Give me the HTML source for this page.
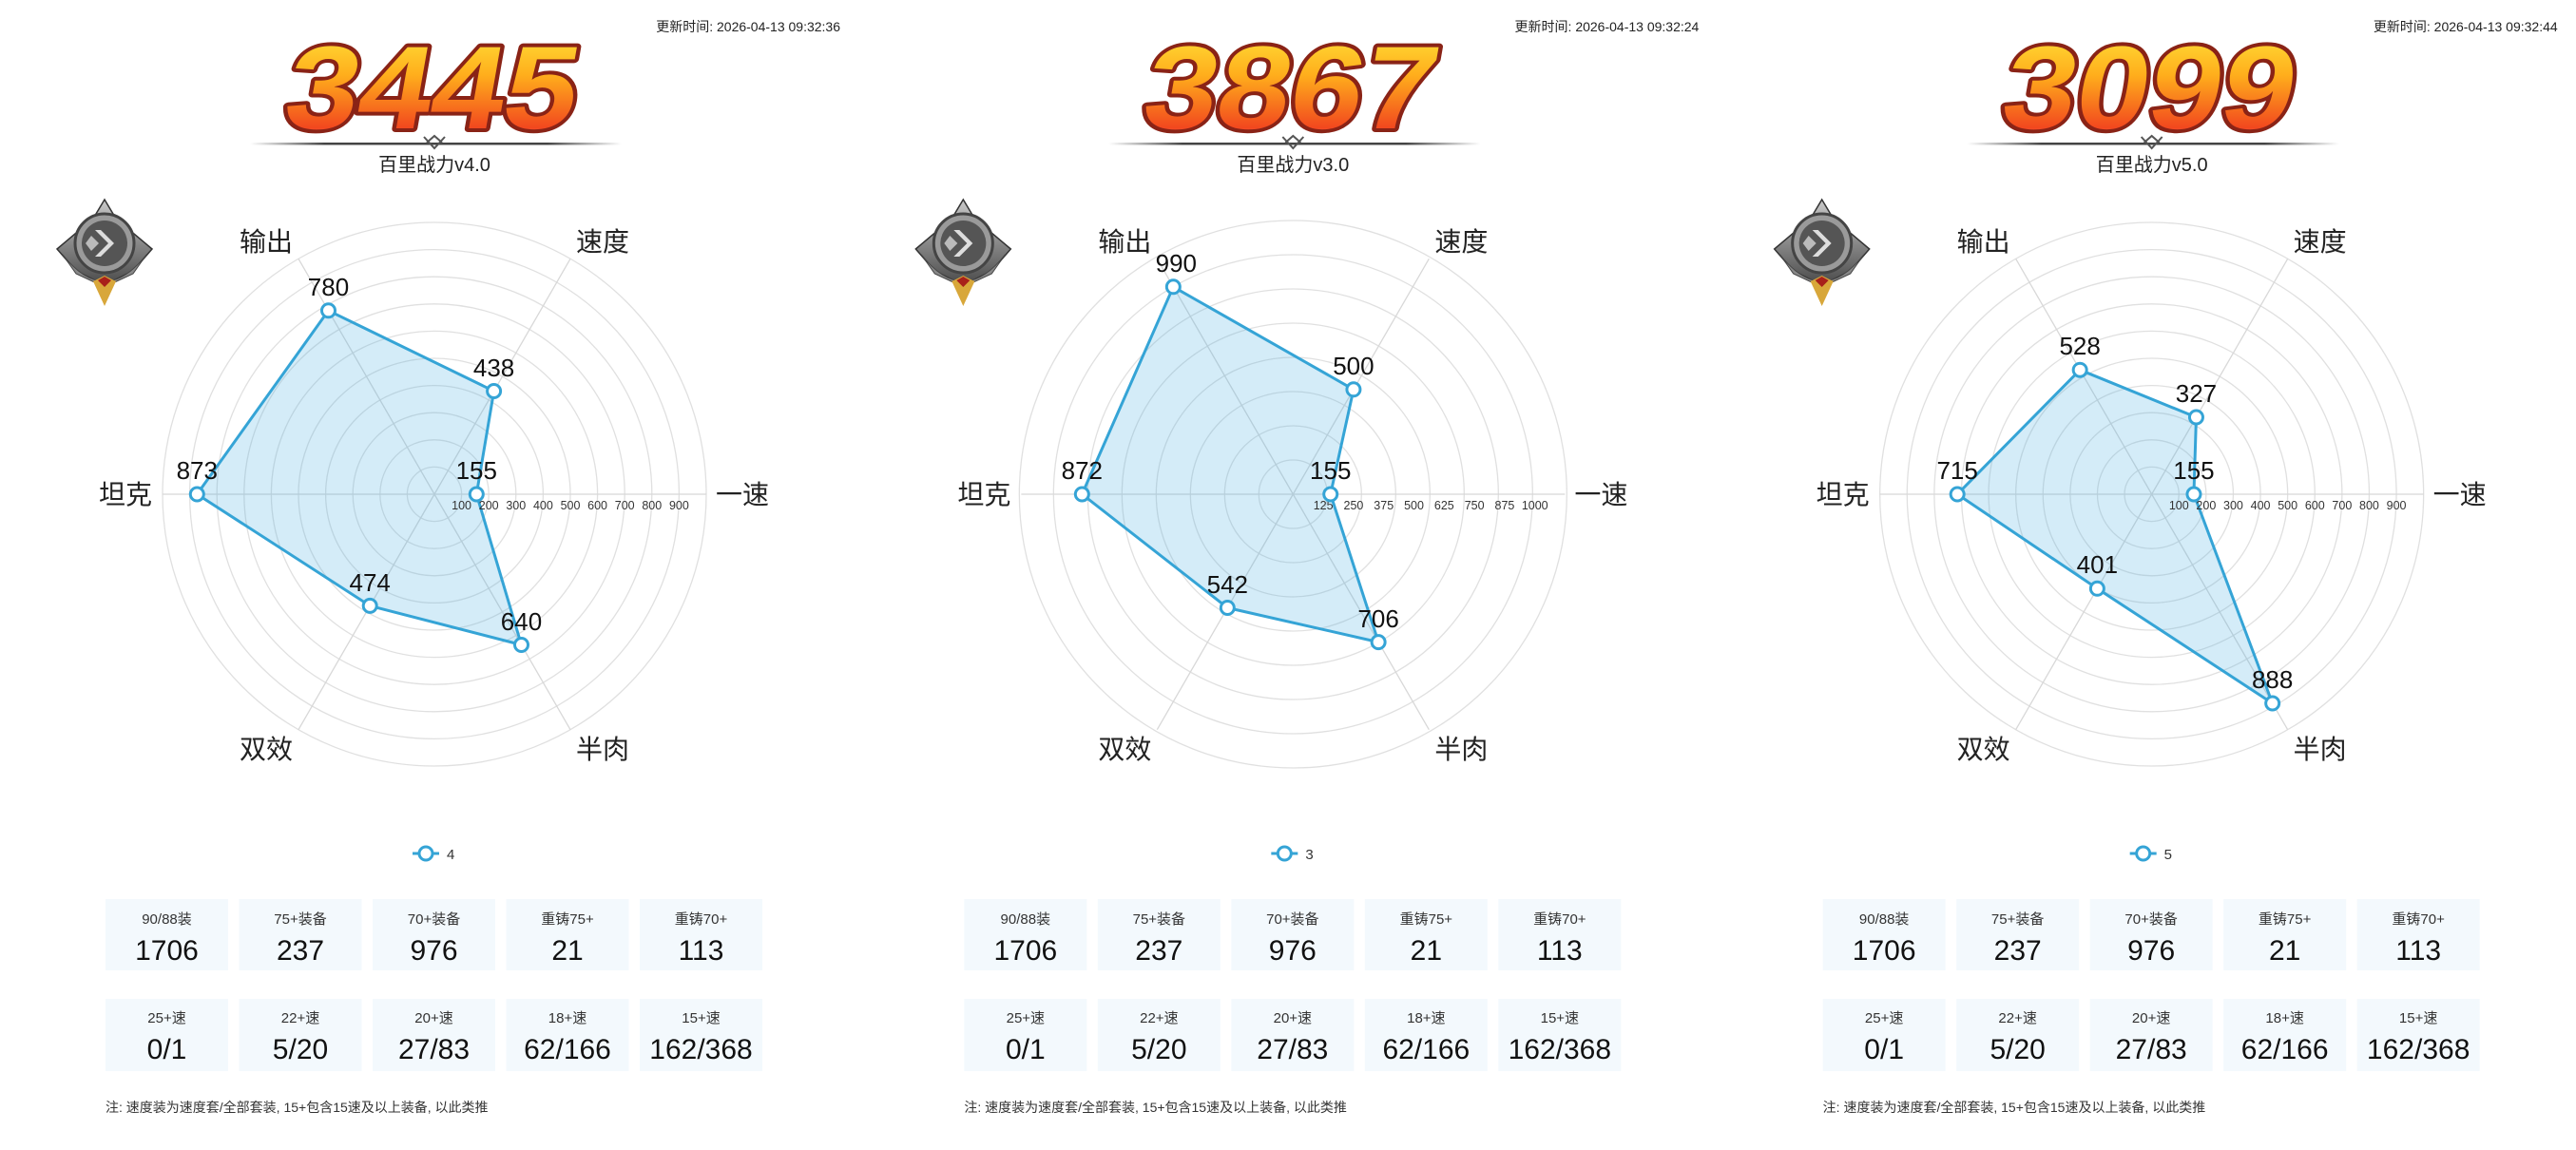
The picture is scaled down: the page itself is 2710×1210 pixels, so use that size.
<!DOCTYPE html>
<html><head><meta charset="utf-8"><style>
html,body{margin:0;padding:0;background:#fff;width:2710px;height:1210px;overflow:hidden}
svg{display:block;font-family:"Liberation Sans","Noto Sans CJK SC",sans-serif}
.ts{font-size:14px;fill:#222}
.sub{font-size:20px;fill:#222}
.ax{font-size:28px;fill:#222}
.val{font-size:26px;fill:#111;text-anchor:middle}
.tk{font-size:12.5px;fill:#333;text-anchor:middle}
.sl{font-size:15px;fill:#333;text-anchor:middle}
.sv{font-size:30px;fill:#111;text-anchor:middle}
.note{font-size:14px;fill:#333}
.big{font-size:124px;font-weight:bold;fill:url(#gold);stroke:#8a2316;stroke-width:8;paint-order:stroke;stroke-linejoin:round}
</style></head><body>
<svg width="2710" height="1210" viewBox="0 0 2710 1210" xmlns="http://www.w3.org/2000/svg">
<defs>
<linearGradient id="gold" x1="0" y1="0" x2="0" y2="1">
<stop offset="0" stop-color="#ffe83c"/><stop offset="0.4" stop-color="#ffae1c"/><stop offset="0.8" stop-color="#f2481e"/><stop offset="1" stop-color="#ff6b86"/></linearGradient>
<linearGradient id="ln" x1="0" x2="1"><stop offset="0" stop-color="#555" stop-opacity="0"/><stop offset="0.2" stop-color="#444"/><stop offset="0.8" stop-color="#444"/><stop offset="1" stop-color="#555" stop-opacity="0"/></linearGradient>
<linearGradient id="sil" x1="0" y1="0" x2="0" y2="1"><stop offset="0" stop-color="#c9c9c9"/><stop offset="1" stop-color="#4a4a4a"/></linearGradient>
<g id="spokes" stroke="#d8d8d8" stroke-width="1.3">
<line x1="457" y1="520" x2="314" y2="272.3"/><line x1="457" y1="520" x2="600" y2="272.3"/>
<line x1="457" y1="520" x2="743" y2="520"/><line x1="457" y1="520" x2="600" y2="767.7"/>
<line x1="457" y1="520" x2="314" y2="767.7"/><line x1="457" y1="520" x2="171" y2="520"/></g>
<g id="rings10" fill="none" stroke="#e0e0e0" stroke-width="1.3">
<circle cx="457" cy="520" r="28.6"/><circle cx="457" cy="520" r="57.2"/><circle cx="457" cy="520" r="85.8"/><circle cx="457" cy="520" r="114.4"/><circle cx="457" cy="520" r="143"/><circle cx="457" cy="520" r="171.6"/><circle cx="457" cy="520" r="200.2"/><circle cx="457" cy="520" r="228.8"/><circle cx="457" cy="520" r="257.4"/><circle cx="457" cy="520" r="286"/></g>
<g id="rings8" fill="none" stroke="#e0e0e0" stroke-width="1.3">
<circle cx="457" cy="520" r="36"/><circle cx="457" cy="520" r="72"/><circle cx="457" cy="520" r="108"/><circle cx="457" cy="520" r="144"/><circle cx="457" cy="520" r="180"/><circle cx="457" cy="520" r="216"/><circle cx="457" cy="520" r="252"/><circle cx="457" cy="520" r="288"/></g>
<g id="badge">
<path d="M110 210 L122 230 L160 262 L140 285 L110 300 L80 285 L60 262 L98 230 Z" fill="url(#sil)" stroke="#333" stroke-width="1.5"/>
<path d="M66 268 Q88 296 110 296 Q132 296 154 268 L140 288 L110 302 L80 288 Z" fill="#888" stroke="#444" stroke-width="1"/>
<circle cx="110" cy="256" r="31" fill="#9a9a9a" stroke="#444" stroke-width="3"/>
<circle cx="110" cy="256" r="24" fill="#555"/>
<path d="M100 242 L114 256 L100 270 L106 270 L120 256 L106 242 Z" fill="#ddd"/>
<path d="M96 248 L104 256 L96 264 L90 256 Z" fill="#bbb"/>
<path d="M98 296 L110 290 L122 296 L110 322 Z" fill="#d8a73a"/>
<path d="M103 295 L110 291 L117 295 L110 302 Z" fill="#a8201a"/>
</g>
<g id="orn" stroke="#555" stroke-width="2" fill="none">
<path d="M446 144 L457 156 L468 144"/><path d="M449 150 L457 143 L465 150"/></g>
</defs>

<!-- PANEL 1 -->
<g>
<text class="ts" x="884" y="33" text-anchor="end">更新时间: 2026-04-13 09:32:36</text>
<text class="big" x="472" y="135" text-anchor="middle" textLength="306" lengthAdjust="spacingAndGlyphs" transform="skewX(-10)" transform-origin="0 0">3445</text>
<rect x="263" y="150" width="391" height="2.5" fill="url(#ln)"/>
<use href="#orn"/>
<text class="sub" x="457" y="180" text-anchor="middle">百里战力v4.0</text>
<use href="#badge"/>
<use href="#rings10"/><use href="#spokes"/>
<text class="ax" x="280" y="264" text-anchor="middle">输出</text>
<text class="ax" x="634" y="264" text-anchor="middle">速度</text>
<text class="ax" x="132" y="530" text-anchor="middle">坦克</text>
<text class="ax" x="781" y="530" text-anchor="middle">一速</text>
<text class="ax" x="280" y="798" text-anchor="middle">双效</text>
<text class="ax" x="634" y="798" text-anchor="middle">半肉</text>
<polygon points="345.5,326.8 519.6,411.5 501.3,520 548.5,678.5 389.2,637.4 207.3,520" fill="rgba(60,170,225,0.22)" stroke="#35a4d6" stroke-width="3" stroke-linejoin="round"/>
<g class="tk"><text x="485.6" y="536">100</text><text x="514.2" y="536">200</text><text x="542.8" y="536">300</text><text x="571.4" y="536">400</text><text x="600" y="536">500</text><text x="628.6" y="536">600</text><text x="657.2" y="536">700</text><text x="685.8" y="536">800</text><text x="714.4" y="536">900</text></g>
<g fill="#fff" stroke="#35a4d6" stroke-width="3"><circle cx="345.5" cy="326.8" r="7"/><circle cx="519.6" cy="411.5" r="7"/><circle cx="501.3" cy="520" r="7"/><circle cx="548.5" cy="678.5" r="7"/><circle cx="389.2" cy="637.4" r="7"/><circle cx="207.3" cy="520" r="7"/></g>
<text class="val" x="345.5" y="311">780</text><text class="val" x="519.6" y="396">438</text><text class="val" x="501.3" y="504">155</text><text class="val" x="548.5" y="663">640</text><text class="val" x="389.2" y="622">474</text><text class="val" x="207.3" y="504">873</text>
<line x1="434" y1="898" x2="462" y2="898" stroke="#35a4d6" stroke-width="3"/><circle cx="448" cy="898" r="7" fill="#fff" stroke="#35a4d6" stroke-width="3"/>
<text x="470" y="904" font-size="15" fill="#333">4</text>
<g fill="#f3f9fd"><rect x="111" y="946" width="129" height="75"/><rect x="251.5" y="946" width="129" height="75"/><rect x="392" y="946" width="129" height="75"/><rect x="532.5" y="946" width="129" height="75"/><rect x="673" y="946" width="129" height="75"/>
<rect x="111" y="1051" width="129" height="76"/><rect x="251.5" y="1051" width="129" height="76"/><rect x="392" y="1051" width="129" height="76"/><rect x="532.5" y="1051" width="129" height="76"/><rect x="673" y="1051" width="129" height="76"/></g>
<text class="sl" x="175.5" y="972">90/88装</text><text class="sl" x="316" y="972">75+装备</text><text class="sl" x="456.5" y="972">70+装备</text><text class="sl" x="597" y="972">重铸75+</text><text class="sl" x="737.5" y="972">重铸70+</text>
<text class="sv" x="175.5" y="1010">1706</text><text class="sv" x="316" y="1010">237</text><text class="sv" x="456.5" y="1010">976</text><text class="sv" x="597" y="1010">21</text><text class="sv" x="737.5" y="1010">113</text>
<text class="sl" x="175.5" y="1076">25+速</text><text class="sl" x="316" y="1076">22+速</text><text class="sl" x="456.5" y="1076">20+速</text><text class="sl" x="597" y="1076">18+速</text><text class="sl" x="737.5" y="1076">15+速</text>
<text class="sv" x="175.5" y="1114">0/1</text><text class="sv" x="316" y="1114">5/20</text><text class="sv" x="456.5" y="1114">27/83</text><text class="sv" x="597" y="1114">62/166</text><text class="sv" x="737.5" y="1114">162/368</text>
<text class="note" x="111" y="1170">注: 速度装为速度套/全部套装, 15+包含15速及以上装备, 以此类推</text>
</g>

<!-- PANEL 2 -->
<g transform="translate(903.33,0)">
<text class="ts" x="884" y="33" text-anchor="end">更新时间: 2026-04-13 09:32:24</text>
<text class="big" x="472" y="135" text-anchor="middle" textLength="306" lengthAdjust="spacingAndGlyphs" transform="skewX(-10)" transform-origin="0 0">3867</text>
<rect x="263" y="150" width="391" height="2.5" fill="url(#ln)"/>
<use href="#orn"/>
<text class="sub" x="457" y="180" text-anchor="middle">百里战力v3.0</text>
<use href="#badge"/>
<use href="#rings8"/><use href="#spokes"/>
<text class="ax" x="280" y="264" text-anchor="middle">输出</text>
<text class="ax" x="634" y="264" text-anchor="middle">速度</text>
<text class="ax" x="132" y="530" text-anchor="middle">坦克</text>
<text class="ax" x="781" y="530" text-anchor="middle">一速</text>
<text class="ax" x="280" y="798" text-anchor="middle">双效</text>
<text class="ax" x="634" y="798" text-anchor="middle">半肉</text>
<polygon points="331,301.8 520.6,409.8 496.4,520 546.8,675.6 388,639.5 235,520" fill="rgba(60,170,225,0.22)" stroke="#35a4d6" stroke-width="3" stroke-linejoin="round"/>
<g class="tk"><text x="488.8" y="536">125</text><text x="520.6" y="536">250</text><text x="552.4" y="536">375</text><text x="584.2" y="536">500</text><text x="616" y="536">625</text><text x="647.8" y="536">750</text><text x="679.6" y="536">875</text><text x="711.4" y="536">1000</text></g>
<g fill="#fff" stroke="#35a4d6" stroke-width="3"><circle cx="331" cy="301.8" r="7"/><circle cx="520.6" cy="409.8" r="7"/><circle cx="496.4" cy="520" r="7"/><circle cx="546.8" cy="675.6" r="7"/><circle cx="388" cy="639.5" r="7"/><circle cx="235" cy="520" r="7"/></g>
<text class="val" x="334" y="286">990</text><text class="val" x="520.6" y="394">500</text><text class="val" x="496.4" y="504">155</text><text class="val" x="546.8" y="660">706</text><text class="val" x="388" y="624">542</text><text class="val" x="235" y="504">872</text>
<line x1="434" y1="898" x2="462" y2="898" stroke="#35a4d6" stroke-width="3"/><circle cx="448" cy="898" r="7" fill="#fff" stroke="#35a4d6" stroke-width="3"/>
<text x="470" y="904" font-size="15" fill="#333">3</text>
<g fill="#f3f9fd"><rect x="111" y="946" width="129" height="75"/><rect x="251.5" y="946" width="129" height="75"/><rect x="392" y="946" width="129" height="75"/><rect x="532.5" y="946" width="129" height="75"/><rect x="673" y="946" width="129" height="75"/>
<rect x="111" y="1051" width="129" height="76"/><rect x="251.5" y="1051" width="129" height="76"/><rect x="392" y="1051" width="129" height="76"/><rect x="532.5" y="1051" width="129" height="76"/><rect x="673" y="1051" width="129" height="76"/></g>
<text class="sl" x="175.5" y="972">90/88装</text><text class="sl" x="316" y="972">75+装备</text><text class="sl" x="456.5" y="972">70+装备</text><text class="sl" x="597" y="972">重铸75+</text><text class="sl" x="737.5" y="972">重铸70+</text>
<text class="sv" x="175.5" y="1010">1706</text><text class="sv" x="316" y="1010">237</text><text class="sv" x="456.5" y="1010">976</text><text class="sv" x="597" y="1010">21</text><text class="sv" x="737.5" y="1010">113</text>
<text class="sl" x="175.5" y="1076">25+速</text><text class="sl" x="316" y="1076">22+速</text><text class="sl" x="456.5" y="1076">20+速</text><text class="sl" x="597" y="1076">18+速</text><text class="sl" x="737.5" y="1076">15+速</text>
<text class="sv" x="175.5" y="1114">0/1</text><text class="sv" x="316" y="1114">5/20</text><text class="sv" x="456.5" y="1114">27/83</text><text class="sv" x="597" y="1114">62/166</text><text class="sv" x="737.5" y="1114">162/368</text>
<text class="note" x="111" y="1170">注: 速度装为速度套/全部套装, 15+包含15速及以上装备, 以此类推</text>
</g>

<!-- PANEL 3 -->
<g transform="translate(1806.67,0)">
<text class="ts" x="884" y="33" text-anchor="end">更新时间: 2026-04-13 09:32:44</text>
<text class="big" x="472" y="135" text-anchor="middle" textLength="306" lengthAdjust="spacingAndGlyphs" transform="skewX(-10)" transform-origin="0 0">3099</text>
<rect x="263" y="150" width="391" height="2.5" fill="url(#ln)"/>
<use href="#orn"/>
<text class="sub" x="457" y="180" text-anchor="middle">百里战力v5.0</text>
<use href="#badge"/>
<use href="#rings10"/><use href="#spokes"/>
<text class="ax" x="280" y="264" text-anchor="middle">输出</text>
<text class="ax" x="634" y="264" text-anchor="middle">速度</text>
<text class="ax" x="132" y="530" text-anchor="middle">坦克</text>
<text class="ax" x="781" y="530" text-anchor="middle">一速</text>
<text class="ax" x="280" y="798" text-anchor="middle">双效</text>
<text class="ax" x="634" y="798" text-anchor="middle">半肉</text>
<polygon points="381.5,389.2 503.8,439 501.3,520 584,740 399.7,619.3 252.5,520" fill="rgba(60,170,225,0.22)" stroke="#35a4d6" stroke-width="3" stroke-linejoin="round"/>
<g class="tk"><text x="485.6" y="536">100</text><text x="514.2" y="536">200</text><text x="542.8" y="536">300</text><text x="571.4" y="536">400</text><text x="600" y="536">500</text><text x="628.6" y="536">600</text><text x="657.2" y="536">700</text><text x="685.8" y="536">800</text><text x="714.4" y="536">900</text></g>
<g fill="#fff" stroke="#35a4d6" stroke-width="3"><circle cx="381.5" cy="389.2" r="7"/><circle cx="503.8" cy="439" r="7"/><circle cx="501.3" cy="520" r="7"/><circle cx="584" cy="740" r="7"/><circle cx="399.7" cy="619.3" r="7"/><circle cx="252.5" cy="520" r="7"/></g>
<text class="val" x="381.5" y="373">528</text><text class="val" x="503.8" y="423">327</text><text class="val" x="501.3" y="504">155</text><text class="val" x="584" y="724">888</text><text class="val" x="399.7" y="603">401</text><text class="val" x="252.5" y="504">715</text>
<line x1="434" y1="898" x2="462" y2="898" stroke="#35a4d6" stroke-width="3"/><circle cx="448" cy="898" r="7" fill="#fff" stroke="#35a4d6" stroke-width="3"/>
<text x="470" y="904" font-size="15" fill="#333">5</text>
<g fill="#f3f9fd"><rect x="111" y="946" width="129" height="75"/><rect x="251.5" y="946" width="129" height="75"/><rect x="392" y="946" width="129" height="75"/><rect x="532.5" y="946" width="129" height="75"/><rect x="673" y="946" width="129" height="75"/>
<rect x="111" y="1051" width="129" height="76"/><rect x="251.5" y="1051" width="129" height="76"/><rect x="392" y="1051" width="129" height="76"/><rect x="532.5" y="1051" width="129" height="76"/><rect x="673" y="1051" width="129" height="76"/></g>
<text class="sl" x="175.5" y="972">90/88装</text><text class="sl" x="316" y="972">75+装备</text><text class="sl" x="456.5" y="972">70+装备</text><text class="sl" x="597" y="972">重铸75+</text><text class="sl" x="737.5" y="972">重铸70+</text>
<text class="sv" x="175.5" y="1010">1706</text><text class="sv" x="316" y="1010">237</text><text class="sv" x="456.5" y="1010">976</text><text class="sv" x="597" y="1010">21</text><text class="sv" x="737.5" y="1010">113</text>
<text class="sl" x="175.5" y="1076">25+速</text><text class="sl" x="316" y="1076">22+速</text><text class="sl" x="456.5" y="1076">20+速</text><text class="sl" x="597" y="1076">18+速</text><text class="sl" x="737.5" y="1076">15+速</text>
<text class="sv" x="175.5" y="1114">0/1</text><text class="sv" x="316" y="1114">5/20</text><text class="sv" x="456.5" y="1114">27/83</text><text class="sv" x="597" y="1114">62/166</text><text class="sv" x="737.5" y="1114">162/368</text>
<text class="note" x="111" y="1170">注: 速度装为速度套/全部套装, 15+包含15速及以上装备, 以此类推</text>
</g>
</svg>
</body></html>
